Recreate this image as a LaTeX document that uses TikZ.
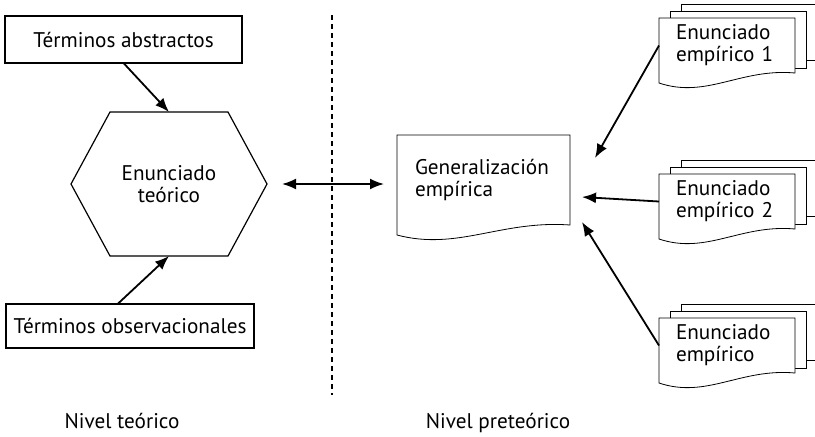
\documentclass[tikz,border=0pt]{standalone}
\usepackage{fontspec}
\setmainfont{PT Sans}
\usetikzlibrary{arrows.meta,calc,backgrounds}

% document outline with a wavy lower edge
\newcommand{\docshape}[1]{%
  \filldraw[fill=white] (#1.north west) -- (#1.north east) -- (#1.south east)
    .. controls ($(#1.south west)!0.6!(#1.south east)+(0,-5)$) and ($(#1.south west)!0.35!(#1.south east)+(0,26)$) .. ($(#1.south west)+(0,10)$) -- cycle;}
% three stacked pages
\newcommand{\stackshape}[1]{%
  \filldraw[fill=white] ($(#1.north west)+(22,-14)$) rectangle ($(#1.north east)+(22,42)$);
  \filldraw[fill=white] ($(#1.north west)+(11,-7)$) rectangle ($(#1.north east)+(11,50)$);
  \docshape{#1}}

\begin{document}
\begin{tikzpicture}[x=0.5pt, y=-0.5pt, outer sep=0pt, line width=0.6pt,
  font=\fontsize{10.6}{10.9}\selectfont]

\tikzstyle{term}=[draw, rectangle, anchor=north west, inner sep=0pt]
\tikzstyle{doc}=[rectangle, anchor=north west, align=left, inner ysep=0pt]
\tikzstyle{arr}=[line width=0.9pt, -{Latex[length=7pt,width=5.5pt]}]

\useasboundingbox (0,0) rectangle (815,436);

\node[term, minimum width=118.5pt, minimum height=23.5pt] (abstr) at (5,16) {Términos abstractos};
\node[term, minimum width=124pt, minimum height=22pt] (obser) at (6,304) {Términos observacionales};
\node[minimum width=98pt, minimum height=72pt, align=center] (theo) at (169,184) {Enunciado\\teórico};
\draw (theo.west) -- ($(theo.north)+(-59,0)$) -- ($(theo.north)+(59,0)$) -- (theo.east)
  -- ($(theo.south)+(59,0)$) -- ($(theo.south)+(-59,0)$) -- cycle;

\node[doc, inner xsep=9pt, text width=68.5pt, minimum height=45pt] (gen) at (397,135) {Generalización\\empírica};
\node[doc, inner xsep=8.5pt, text width=51pt, minimum height=27.5pt] (emp1) at (659,18) {Enunciado\\empírico 1};
\node[doc, inner xsep=8.5pt, text width=51pt, minimum height=27.5pt] (emp2) at (659,174) {Enunciado\\empírico 2};
\node[doc, inner xsep=8.5pt, text width=51pt, minimum height=27.5pt] (emp3) at (659,318) {Enunciado\\empírico};
\begin{scope}[on background layer]
\docshape{gen} \stackshape{emp1} \stackshape{emp2} \stackshape{emp3}
\end{scope}

\node[anchor=base] (lvteo) at (122,428) {Nivel teórico};
\node[anchor=base] (lvpre) at (498,428) {Nivel preteórico};
\coordinate (septop) at (332,15); \coordinate (sepbot) at (332,395);
\draw[dashed, dash pattern=on 2.5pt off 2pt] (septop) -- (sepbot);

\coordinate (tip1) at (595,158); \coordinate (tip2) at (582,197); \coordinate (tip3) at (582,222);
\draw[arr] (abstr.south) -- (theo.north);
\draw[arr] ($(obser.north west)!0.45!(obser.north east)$) -- (theo.south);
\draw[arr, {Latex[length=7pt,width=5.5pt]}-{Latex[length=7pt,width=5.5pt]}, shorten <=7.5pt, shorten >=6.5pt] (theo.east) -- (theo.east -| gen.west);
\draw[arr] (emp1.west) -- (tip1);
\draw[arr] (emp2.west) -- (tip2);
\draw[arr] (emp3.west) -- (tip3);

\end{tikzpicture}
\end{document}
